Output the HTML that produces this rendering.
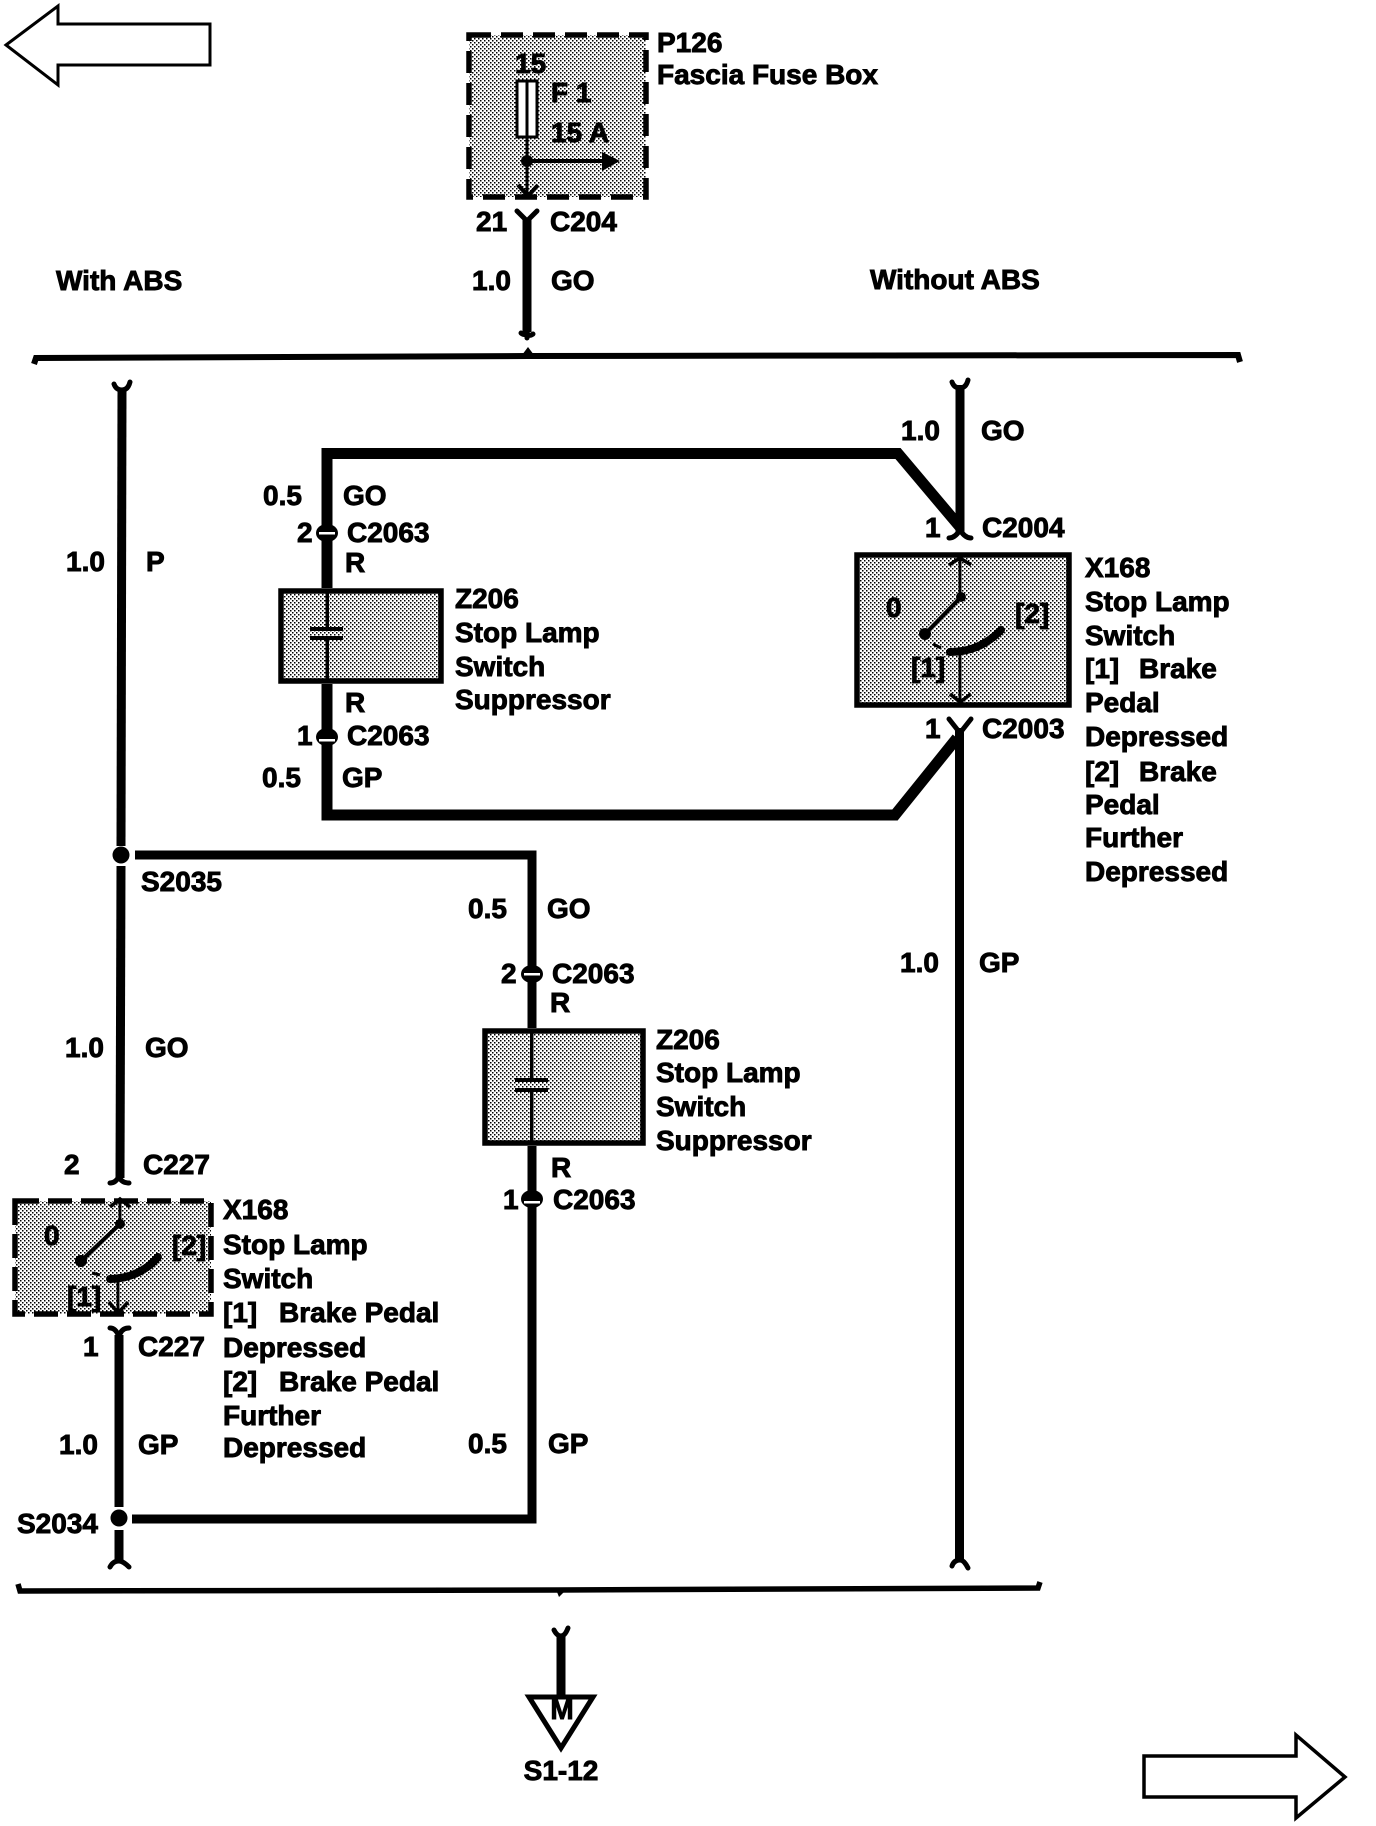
<!DOCTYPE html>
<html><head><meta charset="utf-8">
<style>
html,body{margin:0;padding:0;background:#fff}
svg{display:block}
text{font-family:"Liberation Sans",sans-serif;font-weight:700;font-size:28px;fill:#000;stroke:#000;stroke-width:.9}
.w{fill:none;stroke:#000;stroke-width:9}
.t{fill:none;stroke:#000;stroke-width:3}
.c{fill:none;stroke:#000;stroke-width:5;stroke-linecap:round;stroke-linejoin:round}
</style></head><body>
<svg width="1376" height="1826" viewBox="0 0 1376 1826" xmlns="http://www.w3.org/2000/svg">
<defs>
<pattern id="h" width="4" height="4" patternUnits="userSpaceOnUse">
<rect width="4" height="4" fill="#fff"/>
<rect x="0" y="0" width="1.5" height="1.5" fill="#000"/>
<rect x="2" y="2" width="1.5" height="1.5" fill="#000"/>
</pattern>
</defs>

<!-- page arrows -->
<polygon points="6,45 58,6 58,24 210,24 210,65 58,65 58,85" fill="#fff" stroke="#000" stroke-width="3"/>
<polygon points="1144,1756 1296,1756 1296,1735 1345,1777 1296,1818 1296,1797 1144,1797" fill="#fff" stroke="#000" stroke-width="3.5"/>

<!-- fuse box -->
<rect x="469" y="35" width="177" height="162" fill="url(#h)"/>
<rect x="469" y="35" width="177" height="162" fill="none" stroke="#000" stroke-width="5.5" stroke-dasharray="22 10"/>
<rect x="517" y="81" width="20" height="56" fill="#fff" stroke="#000" stroke-width="3"/>
<line x1="527" y1="81" x2="527" y2="195" class="t"/>
<circle cx="527" cy="161" r="6"/>
<line x1="527" y1="161" x2="606" y2="161" stroke="#000" stroke-width="4"/>
<polygon points="602,152 620,161 602,171"/>
<polyline points="518,185 528,196 538,185" fill="none" stroke="#000" stroke-width="4"/>
<text x="515" y="73">15</text>
<text x="551" y="102">F 1</text>
<text x="551" y="142">15 A</text>
<text x="657" y="52">P126</text>
<text x="657" y="84">Fascia Fuse Box</text>

<polyline points="517,211 527,221 537,211" class="c"/>
<line x1="527" y1="218" x2="527" y2="332" class="w"/>
<path d="M527 330 q-1 7 -6 3 M527 330 q0 8 6 4 M527 338 l0 -6" class="c" stroke-width="3"/>
<text x="476" y="231">21</text>
<text x="550" y="231">C204</text>
<text x="472" y="290">1.0</text>
<text x="551" y="290">GO</text>
<text x="56" y="290" font-size="28.7">With ABS</text>
<text x="870" y="289" font-size="28.6">Without ABS</text>

<!-- top bus -->
<path d="M34 364 L36 358 L528 356 L1238 355 L1240 362" fill="none" stroke="#000" stroke-width="6"/>
<polygon points="522,355 528,347 534,355"/>

<!-- left main wire -->
<line x1="122" y1="388" x2="121" y2="846" class="w"/>
<line x1="121" y1="866" x2="120" y2="1178" class="w"/>
<path d="M114 384 q2 6 8 6 q6 0 8 -8" class="c" stroke-width="4"/>
<circle cx="121" cy="855" r="8.5"/>
<text x="66" y="571">1.0</text>
<text x="146" y="571">P</text>
<text x="141" y="891">S2035</text>
<text x="65" y="1057">1.0</text>
<text x="145" y="1057">GO</text>

<!-- top loop -->
<polyline points="960,527 898,453.5 327,453.5 327,815 895,815 957,738" fill="none" stroke="#000" stroke-width="11"/>
<rect x="278" y="588" width="166" height="96" fill="#fff"/>
<rect x="281" y="591" width="160" height="90" fill="url(#h)" stroke="#000" stroke-width="5.5"/>
<rect x="325.5" y="593" width="3.5" height="34" fill="#000"/>
<rect x="325.5" y="640" width="3.5" height="40" fill="#000"/>
<rect x="310" y="627" width="33" height="4"/>
<rect x="310" y="636" width="33" height="4"/>
<ellipse cx="327" cy="533" rx="11" ry="9"/>
<rect x="319" y="532" width="16" height="2.5" fill="#fff"/>
<ellipse cx="327" cy="737" rx="11" ry="9"/>
<rect x="319" y="739" width="16" height="2.5" fill="#fff"/>
<text x="263" y="505">0.5</text>
<text x="343" y="505">GO</text>
<text x="297" y="542">2</text>
<text x="347" y="542">C2063</text>
<text x="345" y="572">R</text>
<text x="455" y="608">Z206</text>
<text x="455" y="642">Stop Lamp</text>
<text x="455" y="676">Switch</text>
<text x="455" y="709">Suppressor</text>
<text x="345" y="712">R</text>
<text x="297" y="745">1</text>
<text x="347" y="745">C2063</text>
<text x="262" y="787">0.5</text>
<text x="342" y="787">GP</text>

<!-- right wire -->
<line x1="960" y1="385" x2="960" y2="532" class="w" stroke-width="10"/>
<path d="M952 382 q2 6 8 6 q6 0 8 -8" class="c" stroke-width="4"/>
<path d="M949 538 q6 0 11 -8 q5 8 11 8" class="c"/>
<text x="901" y="440">1.0</text>
<text x="981" y="440">GO</text>
<text x="925" y="537">1</text>
<text x="982" y="537">C2004</text>

<!-- right switch -->
<rect x="857" y="555" width="212" height="150" fill="url(#h)" stroke="#000" stroke-width="5.5"/>
<line x1="960" y1="558" x2="960" y2="597" class="t"/>
<polyline points="949,565 960,558 971,565" fill="none" stroke="#000" stroke-width="3.5"/>
<circle cx="961" cy="597" r="5"/>
<line x1="961" y1="597" x2="925" y2="634" stroke="#000" stroke-width="4"/>
<circle cx="925" cy="634" r="6"/>
<line x1="933" y1="644" x2="941" y2="648" stroke="#000" stroke-width="3"/>
<path d="M950 652 Q980 652 1001 630" fill="none" stroke="#000" stroke-width="8" stroke-linecap="round"/>
<line x1="960" y1="655" x2="960" y2="700" class="t"/>
<polyline points="950,694 960,702 971,694" fill="none" stroke="#000" stroke-width="3.5"/>
<text x="886" y="617" font-size="26">0</text>
<text x="1015" y="623">[2]</text>
<text x="911" y="677">[1]</text>
<path d="M949 719 L960 733 L971 719" class="c"/>
<line x1="959.5" y1="728" x2="959.5" y2="1562" class="w" stroke-width="10"/>
<path d="M952 1566 q2 -6 8 -6 q4 0 8 8" class="c" stroke-width="4"/>
<text x="925" y="738">1</text>
<text x="982" y="738">C2003</text>
<text x="900" y="972">1.0</text>
<text x="979" y="972">GP</text>
<text x="1085" y="577">X168</text>
<text x="1085" y="611">Stop Lamp</text>
<text x="1085" y="645">Switch</text>
<text x="1085" y="678">[1]</text><text x="1139" y="678">Brake</text>
<text x="1085" y="712">Pedal</text>
<text x="1085" y="746">Depressed</text>
<text x="1085" y="781">[2]</text><text x="1139" y="781">Brake</text>
<text x="1085" y="814">Pedal</text>
<text x="1085" y="847">Further</text>
<text x="1085" y="881">Depressed</text>

<!-- center loop -->
<polyline points="135,855 532,855 532,1519 132,1519" fill="none" stroke="#000" stroke-width="9"/>
<rect x="482" y="1028" width="164" height="118" fill="#fff"/>
<rect x="485" y="1031" width="158" height="112" fill="url(#h)" stroke="#000" stroke-width="5.5"/>
<rect x="530" y="1033" width="3.5" height="45" fill="#000"/>
<rect x="530" y="1091" width="3.5" height="51" fill="#000"/>
<rect x="515" y="1078" width="33" height="4"/>
<rect x="515" y="1088" width="33" height="4"/>
<ellipse cx="532" cy="974" rx="11" ry="9"/>
<rect x="524" y="973" width="16" height="2.5" fill="#fff"/>
<ellipse cx="532" cy="1199" rx="11" ry="9"/>
<rect x="524" y="1201" width="16" height="2.5" fill="#fff"/>
<text x="468" y="918">0.5</text>
<text x="547" y="918">GO</text>
<text x="501" y="983">2</text>
<text x="552" y="983">C2063</text>
<text x="550" y="1012">R</text>
<text x="656" y="1049">Z206</text>
<text x="656" y="1082">Stop Lamp</text>
<text x="656" y="1116">Switch</text>
<text x="656" y="1150">Suppressor</text>
<text x="551" y="1177">R</text>
<text x="503" y="1209">1</text>
<text x="553" y="1209">C2063</text>
<text x="468" y="1453">0.5</text>
<text x="548" y="1453">GP</text>

<!-- left switch -->
<path d="M110 1183 q6 0 9 -7 q2 7 10 7" class="c"/>
<text x="64" y="1174">2</text>
<text x="143" y="1174">C227</text>
<rect x="15" y="1201" width="196" height="113" fill="url(#h)"/>
<rect x="15" y="1201" width="196" height="113" fill="none" stroke="#000" stroke-width="5.5" stroke-dasharray="24 9"/>
<line x1="120" y1="1199" x2="120" y2="1224" class="t"/>
<polyline points="110,1207 120,1199 130,1207" fill="none" stroke="#000" stroke-width="3.5"/>
<circle cx="120" cy="1224" r="5"/>
<line x1="120" y1="1224" x2="81" y2="1261" stroke="#000" stroke-width="4"/>
<circle cx="81" cy="1261" r="6"/>
<line x1="92" y1="1273" x2="100" y2="1275" stroke="#000" stroke-width="3"/>
<path d="M110 1279 Q140 1278 158 1257" fill="none" stroke="#000" stroke-width="8" stroke-linecap="round"/>
<line x1="118" y1="1282" x2="118" y2="1312" class="t"/>
<polyline points="109,1302 118,1313 128,1302" fill="none" stroke="#000" stroke-width="3.5"/>
<text x="44" y="1245" font-size="26">0</text>
<text x="172" y="1255">[2]</text>
<text x="67" y="1306">[1]</text>
<text x="223" y="1219">X168</text>
<text x="223" y="1254">Stop Lamp</text>
<text x="223" y="1288">Switch</text>
<text x="223" y="1322">[1]</text><text x="279" y="1322">Brake Pedal</text>
<text x="223" y="1357">Depressed</text>
<text x="223" y="1391">[2]</text><text x="279" y="1391">Brake Pedal</text>
<text x="223" y="1425">Further</text>
<text x="223" y="1457">Depressed</text>

<path d="M110 1328 q6 0 9 9 q2 -9 10 -9" class="c"/>
<line x1="119" y1="1335" x2="119" y2="1507" class="w"/>
<circle cx="119" cy="1518" r="8.5"/>
<line x1="119" y1="1530" x2="119" y2="1562" class="w" stroke-width="7"/>
<path d="M110 1567 q3 -6 9 -6 q4 0 10 6" class="c" stroke-width="4"/>
<text x="83" y="1356">1</text>
<text x="138" y="1356">C227</text>
<text x="59" y="1454">1.0</text>
<text x="138" y="1454">GP</text>
<text x="17" y="1533">S2034</text>

<!-- bottom bus -->
<path d="M18 1584 L20 1591 L558 1590 L1038 1588 L1040 1582" fill="none" stroke="#000" stroke-width="5.5"/>
<polygon points="557,1592 559,1597 564,1592"/>

<!-- ground -->
<path d="M554 1630 q3 6 7 6 q4 0 7 -8" class="c" stroke-width="4"/>
<line x1="561" y1="1634" x2="561" y2="1696" class="w" stroke-width="8"/>
<polygon points="529,1697 593,1697 561,1748" fill="#fff" stroke="#000" stroke-width="5"/>
<text x="562" y="1719" font-size="15" text-anchor="middle">M</text>
<text x="561" y="1780" text-anchor="middle">S1-12</text>
</svg>
</body></html>
